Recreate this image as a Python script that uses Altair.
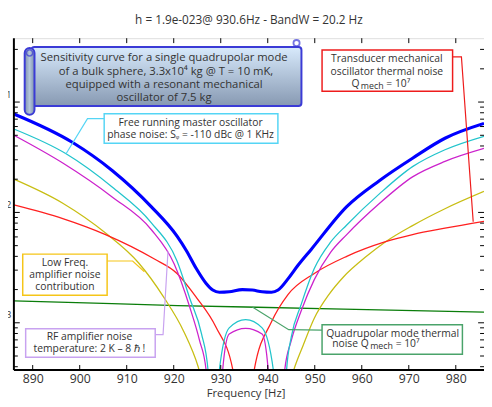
import altair as alt
import pandas as pd

# ---------------- data ----------------
f_total = [886, 898.5, 906.9, 915.2, 920.7, 922.7, 924.8, 926.9, 928.3, 929.7, 931.8, 934.6,
           936.7, 938.8, 940.8, 942.2, 944.3, 946.4, 949.2, 956.8, 963.8, 970.8, 977.7, 986]
h_total = [7.8e-22, 4.3e-22, 2.4e-22, 1.13e-22, 6.1e-23, 4.5e-23, 3.1e-23, 2.27e-23, 1.98e-23,
           1.89e-23, 1.91e-23, 2.0e-23, 1.98e-23, 1.91e-23, 1.89e-23, 1.98e-23, 2.5e-23, 3.3e-23,
           4.6e-23, 1.13e-22, 1.95e-22, 3.1e-22, 4.7e-22, 6.4e-22]

f_phase = [886, 897.1, 906.9, 915.2, 920.7, 923.4, 925.9, 927.3, 928.5, 929.7, 931.8, 935.3,
           938.8, 941.2, 942.6, 944.0, 945.0, 947.1, 949.9, 953.4, 956.8, 963.8, 970.8, 977.7, 986]
h_phase = [5.7e-22, 3.4e-22, 1.7e-22, 8.1e-23, 3.63e-23, 1.67e-23, 7.98e-24, 3.7e-24, 1e-26,
           3.7e-24, 9.0e-24, 1.07e-23, 9.0e-24, 3.7e-24, 1e-26, 3.7e-24, 7.4e-24, 1.46e-23,
           3.1e-23, 5.4e-23, 7.7e-23, 1.48e-22, 2.6e-22, 3.7e-22, 4.9e-22]

f_rf = [886, 896.4, 906.9, 915.2, 920.1, 923.4, 925.5, 926.9, 928.65, 930.4, 931.8, 935.3,
        938.8, 940.1, 941.85, 943.6, 945.0, 947.1, 949.9, 953.4, 956.8, 963.8, 970.8, 977.7, 986]
h_rf = [5.0e-22, 2.8e-22, 1.38e-22, 7.0e-23, 3.41e-23, 1.39e-23, 6.9e-24, 3.7e-24, 1e-26,
        3.7e-24, 7.9e-24, 8.9e-24, 7.9e-24, 3.7e-24, 1e-26, 3.7e-24, 6.9e-24, 1.28e-23,
        2.46e-23, 4.36e-23, 6.3e-23, 1.21e-22, 2.1e-22, 2.9e-22, 3.8e-22]

f_lowf = [886, 896.4, 905.5, 912.5, 917.9, 922.1, 925.2, 935.5, 945.5, 947.5, 949.9, 953,
          956.1, 961, 965, 970.8, 977.7, 986]
h_lowf = [2.0e-22, 1.21e-22, 6.5e-23, 3.5e-23, 1.7e-23, 8.4e-24, 4.0e-24, 1e-26, 3.7e-24,
          6.2e-24, 1.1e-23, 1.8e-23, 2.6e-23, 4.0e-23, 5.4e-23, 7.6e-23, 1.08e-22, 1.55e-22]

f_transd = [886, 896.4, 905.5, 915.8, 920.7, 924.8, 929.0, 932.6, 934.8, 937.1, 940.8, 944.3,
            949.9, 956.8, 964.9, 970.8, 977.7, 986]
h_transd = [1.17e-22, 8.8e-23, 6.3e-23, 3.8e-23, 2.8e-23, 1.7e-23, 9.1e-24, 3.7e-24, 1e-26,
            3.7e-24, 1.02e-23, 1.8e-23, 2.8e-23, 4.0e-23, 5.4e-23, 6.3e-23, 7.2e-23, 8.3e-23]

f_thermal = [886, 906.9, 920.8, 935.3, 956.1, 986]
h_thermal = [1.58e-23, 1.49e-23, 1.43e-23, 1.39e-23, 1.33e-23, 1.25e-23]

x_ticks = [890, 900, 910, 920, 930, 940, 950, 960, 970, 980]
y_major = [1e-21, 1e-22, 1e-23]
y_minor = [k * 10.0 ** e for e in (-24, -23, -22, -21) for k in range(2, 10)
           if 3.74e-24 <= k * 10.0 ** e <= 3.79e-21]

title_text = "h = 1.9e-023@ 930.6Hz - BandW = 20.2 Hz"
xlabel_text = "Frequency [Hz]"

# ---------------- layout ----------------
W, H = 479, 338
FONT = "Open Sans"
TXT = "#333333"

x_scale = alt.Scale(domain=[886, 986], nice=False, zero=False)
y_scale = alt.Scale(type="log", domain=[3.74e-24, 3.79e-21], nice=False)
x_axis = alt.Axis(values=x_ticks, ticks=False, domain=False, grid=False, title=None,
                  labelPadding=3, labelFontSize=12.5, labelColor=TXT, labelFont=FONT)
y_axis = alt.Axis(values=y_major, ticks=False, domain=False, grid=False, title=None,
                  labelExpr="round(-log(datum.value)/LN10)", labelPadding=3,
                  labelFontSize=9, labelOffset=-8, labelColor=TXT, labelFont=FONT)
XE = alt.X("f:Q", scale=x_scale, axis=x_axis)
YE = alt.Y("h:Q", scale=y_scale, axis=y_axis)


def curve(f, h, color, width, interp="monotone"):
    return alt.Chart(pd.DataFrame({"f": f, "h": h})).mark_line(
        color=color, strokeWidth=width, clip=True, interpolate=interp
    ).encode(x=XE, y=YE)


one = pd.DataFrame({"a": [0]})


def box(x1, y1, x2, y2, stroke, sw=1.5, fill="white", radius=0):
    return alt.Chart(one).mark_rect(stroke=stroke, strokeWidth=sw, fill=fill,
                                    cornerRadius=radius).encode(
        x=alt.value(x1), x2=alt.value(x2), y=alt.value(y1), y2=alt.value(y2))


def leader(pts, color, sw=1.2):
    df = pd.DataFrame({"px": [p[0] for p in pts], "py": [p[1] for p in pts],
                       "o": list(range(len(pts)))})
    return alt.Chart(df).mark_line(color=color, strokeWidth=sw).encode(
        x=alt.X("px:Q", scale=None, axis=None), y=alt.Y("py:Q", scale=None, axis=None),
        order="o:Q")


def text(s, x, y, size=10.5, align="center", color=TXT):
    return alt.Chart(one).mark_text(font=FONT, fontSize=size, align=align,
                                    baseline="middle", color=color).encode(
        x=alt.value(x), y=alt.value(y), text=alt.value(s))


# ticks
xt = pd.DataFrame({"f": x_ticks})
tick_top = alt.Chart(xt).mark_rule(color="black", strokeWidth=1).encode(
    x=XE, y=alt.value(0), y2=alt.value(5))
tick_bot = alt.Chart(xt).mark_rule(color="black", strokeWidth=1).encode(
    x=XE, y=alt.value(H - 5), y2=alt.value(H))
ymj = pd.DataFrame({"h": y_major})
ymn = pd.DataFrame({"h": y_minor})
ytl_mj = alt.Chart(ymj).mark_rule(color="black").encode(y=YE, x=alt.value(0), x2=alt.value(6))
ytl_mn = alt.Chart(ymn).mark_rule(color="black").encode(y=YE, x=alt.value(0), x2=alt.value(4))
ytr_mj = alt.Chart(ymj).mark_rule(color="black").encode(y=YE, x=alt.value(W - 6), x2=alt.value(W))
ytr_mn = alt.Chart(ymn).mark_rule(color="black").encode(y=YE, x=alt.value(W - 4), x2=alt.value(W))
left_line = alt.Chart(one).mark_rule(color="black", strokeWidth=2).encode(
    x=alt.value(0), y=alt.value(0), y2=alt.value(H))
bot_line = alt.Chart(one).mark_rule(color="black", strokeWidth=2).encode(
    x=alt.value(0), x2=alt.value(W), y=alt.value(H))

curves = [
    curve(f_thermal, h_thermal, "#0a7d0a", 1.3, "linear"),
    curve(f_lowf, h_lowf, "#c8be14", 1.3),
    curve(f_transd, h_transd, "#ff2020", 1.3),
    curve(f_rf, h_rf, "#cc22cc", 1.3),
    curve(f_phase, h_phase, "#22c4cc", 1.3),
    curve(f_total, h_total, "#0000ff", 3.2),
]

grad = alt.LinearGradient(gradient="linear", x1=0, y1=0, x2=0, y2=1,
                          stops=[alt.GradientStop(color="#d8eafc", offset=0),
                                 alt.GradientStop(color="#8799b2", offset=1)])
grad2 = alt.LinearGradient(gradient="linear", x1=0, y1=0, x2=1, y2=0,
                           stops=[alt.GradientStop(color="#7d90aa", offset=0),
                                  alt.GradientStop(color="#b4c6dc", offset=0.5),
                                  alt.GradientStop(color="#7d90aa", offset=1)])

ann = [
    # blue scroll box
    box(18, 9, 293, 69, "#3b3bd6", 2, grad, 3),
    box(11, 10, 21, 78, "#3b3bd6", 2, grad2, 5),
    alt.Chart(one).mark_point(shape="circle", size=40, stroke="#3b3bd6", strokeWidth=1.5,
                              filled=False).encode(x=alt.value(16), y=alt.value(15)),
    alt.Chart(one).mark_point(shape="circle", size=40, stroke="#3b3bd6", strokeWidth=1.8,
                              filled=False).encode(x=alt.value(288), y=alt.value(5)),
    text("Sensitivity curve for a single quadrupolar mode", 153, 20, 11.5),
    text("of a bulk sphere, 3.3x10\u2074 kg @ T = 10 mK,", 155, 34, 11.5),
    text("equipped with a resonant mechanical", 153, 48, 11.5),
    text("oscillator of 7.5 kg", 153, 61, 11.5),
    # cyan
    leader([(92, 82), (75, 82), (53, 118)], "#55d5f5"),
    box(92, 77, 269, 107, "#55d5f5"),
    text("Free running master oscillator", 180, 86),
    text("phase noise: S\u1d69 = -110 dBc @ 1 KHz", 180, 99),
    # red
    leader([(447, 19), (456, 19), (468, 187)], "#ee1c1c"),
    box(314, 12, 447, 54, "#ee1c1c"),
    text("Transducer mechanical", 380, 21.7),
    text("oscillator thermal noise", 380, 34.3),
    text("Q", 352.2, 46.7, align="right"),
    text("mech", 353.5, 49, 9, align="left"),
    text("= 10\u2077", 379.5, 46.7, align="left"),
    # yellow
    leader([(95, 227), (121, 227), (133, 238)], "#f5c518"),
    box(9, 220, 95, 262, "#f5c518"),
    text("Low Freq.", 52, 229.3),
    text("amplifier noise", 52, 241.7),
    text("contribution", 52, 253.3),
    # purple
    leader([(144, 302), (152, 302), (157, 217)], "#c8a2f0"),
    box(12, 296, 144, 325, "#c8a2f0"),
    text("RF amplifier noise", 77, 305),
    text("temperature: 2 K \u2013 8 \u210f !", 77, 316.7),
    # green
    leader([(314, 297.5), (280, 297), (243, 274)], "#4aa36a"),
    box(314, 292, 457, 322, "#4aa36a"),
    text("Quadrupolar mode thermal", 386, 301.7),
    text("noise Q", 361.5, 311.7, align="right"),
    text("mech", 363, 314, 9, align="left"),
    text("= 10\u2077", 389, 311.7, align="left"),
    # title + x title
    text(title_text, W / 2, -18, 12),
    text(xlabel_text, 236.5, 363, 11.5),
]

chart = alt.layer(
    *curves, tick_top, tick_bot, ytl_mj, ytl_mn, ytr_mj, ytr_mn, left_line, bot_line, *ann
).properties(
    width=W, height=H,
    autosize=alt.AutoSizeParams(type="none"),
    padding={"left": 6, "top": 27, "right": 0, "bottom": 34},
).configure_view(stroke="black", strokeWidth=1).configure(background="white")

chart.save("out.html", embed_options={"renderer": "svg", "actions": False})
